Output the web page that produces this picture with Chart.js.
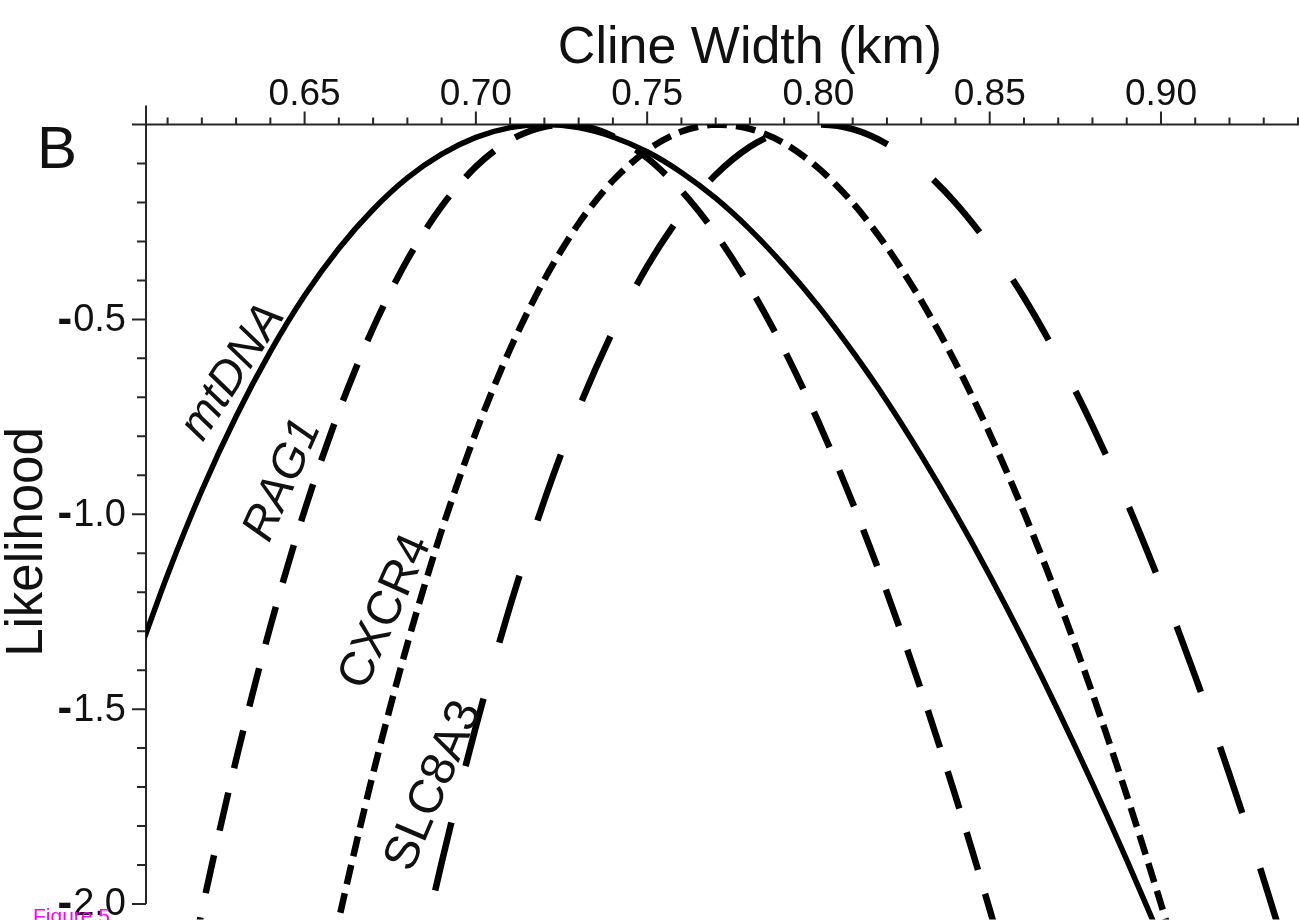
<!DOCTYPE html>
<html>
<head>
<meta charset="utf-8">
<script src="https://cdn.jsdelivr.net/npm/chart.js"></script>
<style>
  html, body { margin: 0; padding: 0; background: #fff; }
  canvas { display: block; }
</style>
</head>
<body>
<canvas id="cline" width="1299" height="920"></canvas>
<script>
// cline width (km) vs likelihood
const mtdnaWidth = [0.60, 0.61, 0.62, 0.63, 0.64, 0.65, 0.66, 0.67, 0.68, 0.69, 0.70, 0.71, 0.72, 0.73, 0.74, 0.75, 0.76, 0.77, 0.78, 0.79, 0.80, 0.81, 0.82, 0.83, 0.84, 0.85, 0.86, 0.87, 0.88, 0.89, 0.90];
const mtdnaLik = [-1.396, -1.155, -0.939, -0.749, -0.583, -0.439, -0.318, -0.218, -0.137, -0.076, -0.033, -0.008, 0, -0.008, -0.032, -0.070, -0.123, -0.189, -0.269, -0.362, -0.466, -0.583, -0.710, -0.849, -0.998, -1.157, -1.326, -1.504, -1.691, -1.887, -2.091];

const rag1Width = [0.61, 0.62, 0.63, 0.64, 0.65, 0.66, 0.67, 0.68, 0.69, 0.70, 0.71, 0.72, 0.73, 0.74, 0.75, 0.76, 0.77, 0.78, 0.79, 0.80, 0.81, 0.82, 0.83, 0.84, 0.85, 0.86];
const rag1Lik = [-2.455, -2.018, -1.630, -1.288, -0.990, -0.736, -0.522, -0.347, -0.210, -0.108, -0.040, -0.006, -0.002, -0.030, -0.086, -0.170, -0.280, -0.417, -0.578, -0.763, -0.971, -1.201, -1.452, -1.723, -2.014, -2.324];

const cxcr4Width = [0.65, 0.66, 0.67, 0.68, 0.69, 0.70, 0.71, 0.72, 0.73, 0.74, 0.75, 0.76, 0.77, 0.78, 0.79, 0.80, 0.81, 0.82, 0.83, 0.84, 0.85, 0.86, 0.87, 0.88, 0.89, 0.90, 0.91];
const cxcr4Lik = [-2.459, -2.040, -1.665, -1.333, -1.042, -0.790, -0.576, -0.398, -0.254, -0.144, -0.066, -0.018, 0, -0.011, -0.048, -0.112, -0.201, -0.315, -0.452, -0.611, -0.793, -0.995, -1.218, -1.460, -1.721, -2.000, -2.297];

const slc8a3Width = [0.68, 0.69, 0.70, 0.71, 0.72, 0.73, 0.74, 0.75, 0.76, 0.77, 0.78, 0.79, 0.80, 0.81, 0.82, 0.83, 0.84, 0.85, 0.86, 0.87, 0.88, 0.89, 0.90, 0.91, 0.92, 0.93, 0.94];
const slc8a3Lik = [-2.286, -1.894, -1.545, -1.235, -0.964, -0.729, -0.530, -0.364, -0.231, -0.129, -0.057, -0.015, 0, -0.012, -0.050, -0.113, -0.201, -0.311, -0.444, -0.598, -0.773, -0.968, -1.183, -1.416, -1.668, -1.937, -2.223];

const xTickValues = [0.65, 0.70, 0.75, 0.80, 0.85, 0.90];
const xTickLabels = ['0.65', '0.70', '0.75', '0.80', '0.85', '0.90'];
const yTickValues = [-0.5, -1.0, -1.5, -2.0];
const yTickLabels = ['0.5', '1.0', '1.5', '2.0'];

const curveLabels = ['mtDNA', 'RAG1', 'CXCR4', 'SLC8A3'];

const ink = '#000';
const axisInk = '#262626';
const textInk = '#111';
const fontFamily = '"Liberation Sans", Arial, Helvetica, sans-serif';

function points(xs, ys) {
    return xs.map((w, i) => ({ x: w, y: ys[i] }));
}

const axesPlugin = {
    id: 'axesPlugin',
    beforeDatasetsDraw(chart) {
        const ctx = chart.ctx;
        const xs = chart.scales.x;
        const ys = chart.scales.y;
        const y0 = ys.getPixelForValue(0);
        const yEnd = ys.getPixelForValue(-2.0);
        const xLeft = xs.getPixelForValue(xs.min);

        ctx.save();
        ctx.strokeStyle = axisInk;
        ctx.lineWidth = 2;

        // axis lines
        ctx.beginPath();
        ctx.moveTo(xLeft - 14, y0);
        ctx.lineTo(chart.width, y0);
        ctx.moveTo(xLeft, y0 - 19);
        ctx.lineTo(xLeft, yEnd);
        ctx.stroke();

        // x ticks every 0.01, long ones every 0.05
        ctx.beginPath();
        for (let k = 61; k <= 94; k++) {
            const px = xs.getPixelForValue(k / 100);
            const len = k % 5 === 0 ? 13 : 7;
            ctx.moveTo(px, y0);
            ctx.lineTo(px, y0 - len);
        }
        // y ticks every 0.1
        for (let k = 1; k <= 20; k++) {
            const py = ys.getPixelForValue(-k / 10);
            const len = k % 5 === 0 ? 14 : 9;
            ctx.moveTo(xLeft, py);
            ctx.lineTo(xLeft - len, py);
        }
        ctx.stroke();

        ctx.fillStyle = textInk;
        ctx.font = '37px ' + fontFamily;
        ctx.textAlign = 'center';
        ctx.textBaseline = 'alphabetic';
        xTickValues.forEach((v, i) => {
            ctx.fillText(xTickLabels[i], xs.getPixelForValue(v), 105);
        });

        ctx.textAlign = 'right';
        ctx.textBaseline = 'middle';
        yTickValues.forEach((v, i) => {
            const py = ys.getPixelForValue(v);
            ctx.font = '38px ' + fontFamily;
            ctx.fillText(yTickLabels[i], 126, py + 1);
            const w = ctx.measureText(yTickLabels[i]).width;
            ctx.font = 'bold 44px ' + fontFamily;
            ctx.fillText('-', 126 - w - 1, py + 1);
        });

        // titles
        ctx.textAlign = 'center';
        ctx.textBaseline = 'alphabetic';
        ctx.font = '52px ' + fontFamily;
        ctx.fillText('Cline Width (km)', 750, 63);

        ctx.font = '60px ' + fontFamily;
        ctx.fillText('B', 57, 168);

        ctx.save();
        ctx.translate(28, 542);
        ctx.rotate(-Math.PI / 2);
        ctx.textBaseline = 'middle';
        ctx.font = '51px ' + fontFamily;
        ctx.fillText('Likelihood', 0, 0);
        ctx.restore();

        ctx.fillStyle = '#ff00ff';
        ctx.textAlign = 'left';
        ctx.font = '21px ' + fontFamily;
        ctx.fillText('Figure 5', 33, 923);

        ctx.restore();
    },
    afterDatasetsDraw(chart) {
        const ctx = chart.ctx;
        const spots = [
            { cx: 233, cy: 372, a: -57, style: 'italic ', size: 47 },
            { cx: 283, cy: 480, a: -66, style: 'italic ', size: 47 },
            { cx: 386, cy: 612, a: -66, style: '', size: 48 },
            { cx: 434, cy: 786, a: -67, style: '', size: 48 },
        ];
        ctx.save();
        ctx.fillStyle = textInk;
        ctx.textAlign = 'center';
        ctx.textBaseline = 'middle';
        curveLabels.forEach((t, i) => {
            const s = spots[i];
            ctx.save();
            ctx.translate(s.cx, s.cy);
            ctx.rotate(s.a * Math.PI / 180);
            ctx.font = s.style + s.size + 'px ' + fontFamily;
            ctx.fillText(t, 0, 0);
            ctx.restore();
        });
        ctx.restore();
    }
};

const lineBase = {
    borderColor: ink,
    pointRadius: 0,
    fill: false,
    tension: 0.3,
    borderCapStyle: 'butt',
};

const chart = new Chart(document.getElementById('cline').getContext('2d'), {
    type: 'line',
    data: {
        datasets: [
            Object.assign({}, lineBase, { label: 'mtDNA', data: points(mtdnaWidth, mtdnaLik), borderWidth: 5.5 }),
            Object.assign({}, lineBase, { label: 'RAG1', data: points(rag1Width, rag1Lik), borderWidth: 6.5, borderDash: [39, 25] }),
            Object.assign({}, lineBase, { label: 'CXCR4', data: points(cxcr4Width, cxcr4Lik), borderWidth: 6.5, borderDash: [20, 9] }),
            Object.assign({}, lineBase, { label: 'SLC8A3', data: points(slc8a3Width, slc8a3Lik), borderWidth: 6.5, borderDash: [70, 58] }),
        ],
    },
    options: {
        responsive: false,
        animation: false,
        devicePixelRatio: 1,
        layout: {
            padding: { left: 146, right: 1, top: 124.5, bottom: 0.4 },
        },
        scales: {
            x: { type: 'linear', min: 0.6037, max: 0.94, display: false },
            y: { type: 'linear', min: -2.04, max: 0, display: false },
        },
        plugins: {
            legend: { display: false },
            tooltip: { enabled: false },
        },
    },
    plugins: [axesPlugin],
});
</script>
</body>
</html>
